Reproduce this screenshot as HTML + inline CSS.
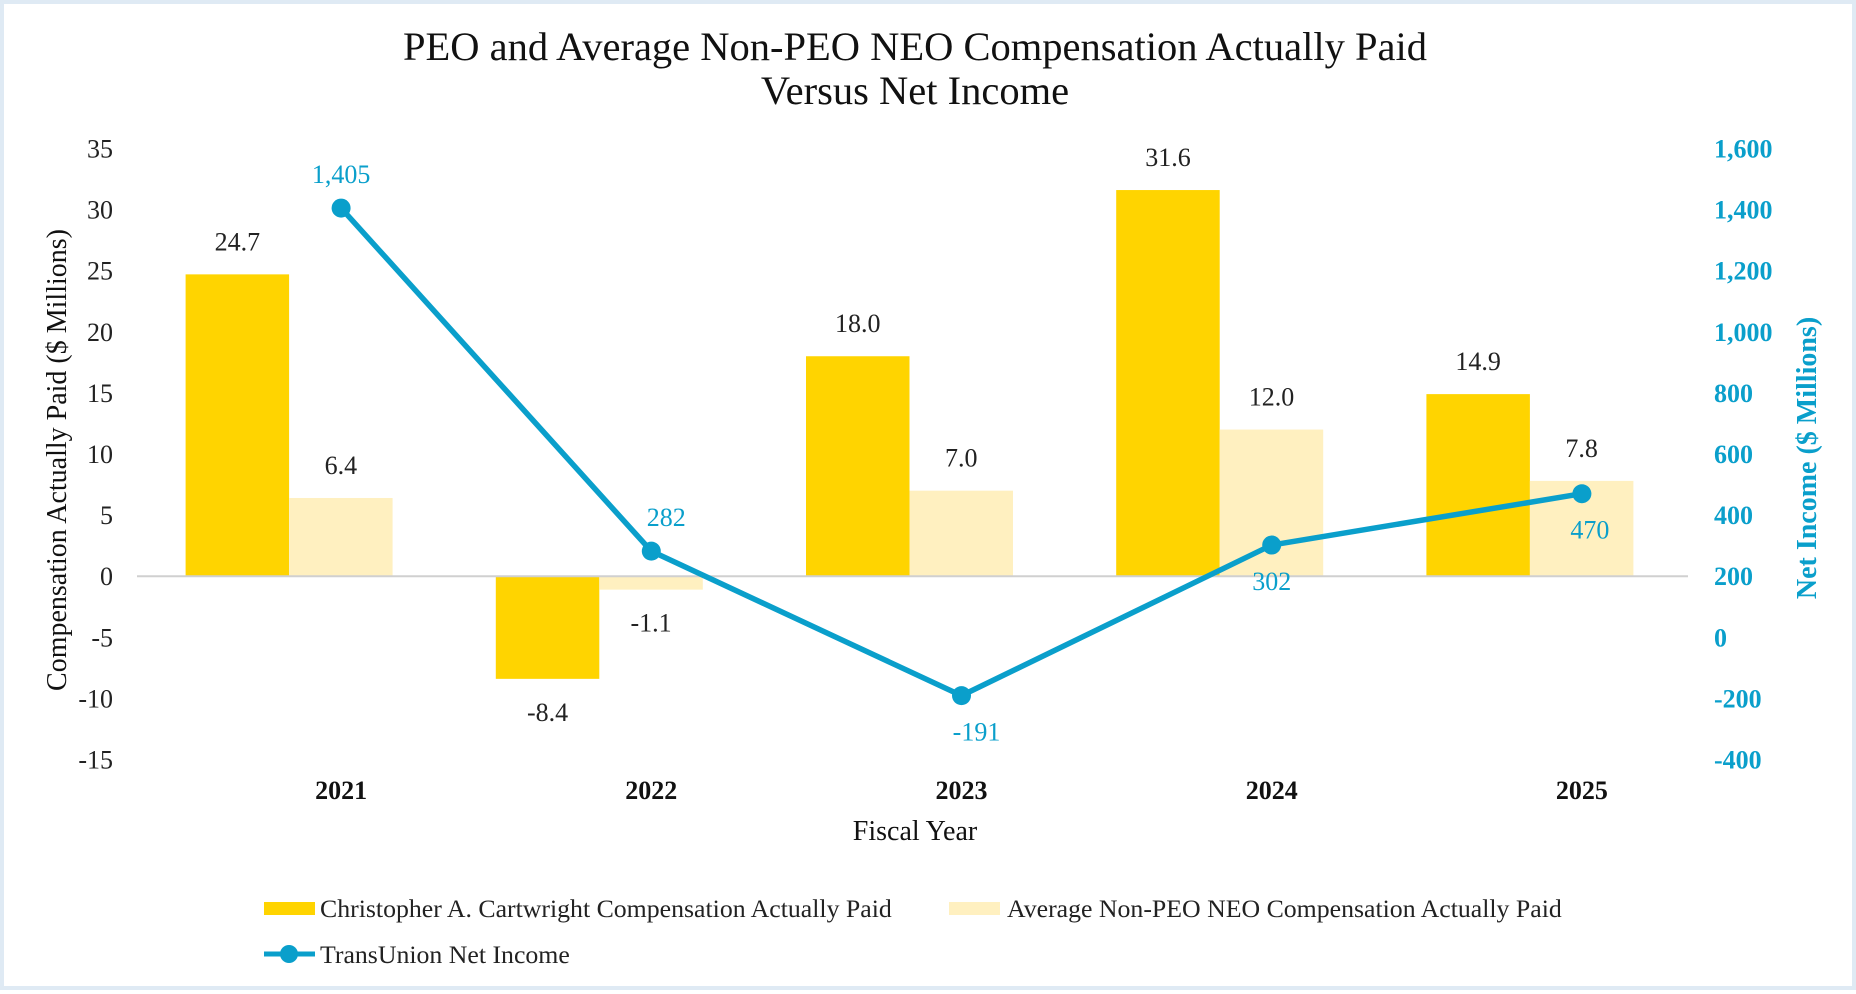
<!DOCTYPE html>
<html><head><meta charset="utf-8">
<style>
html,body{margin:0;padding:0;background:#fff;}
#wrap{width:1856px;height:990px;position:relative;box-sizing:border-box;border:4px solid #dfeaf4;}
svg{position:absolute;left:0;top:0;font-family:"Liberation Serif",serif;}
</style></head>
<body>
<div id="wrap">
<svg id="chart" width="1856" height="990" viewBox="0 0 1856 990"></svg>
</div>
<script>
const categories=["2021","2022","2023","2024","2025"];
const peoValues=[24.7,-8.4,18.0,31.6,14.9];
const neoValues=[6.4,-1.1,7.0,12.0,7.8];
const netIncome=[1405,282,-191,302,470];
const netLabels=["1,405","282","-191","302","470"];
const leftTicks=[35,30,25,20,15,10,5,0,-5,-10,-15];
const rightTicks=[1600,1400,1200,1000,800,600,400,200,0,-200,-400];
const rightTickLabels=["1,600","1,400","1,200","1,000","800","600","400","200","0","-200","-400"];

const NS="http://www.w3.org/2000/svg";
const svg=document.getElementById('chart');
function mk(tag,attrs,text){const e=document.createElementNS(NS,tag);for(const k in attrs)e.setAttribute(k,attrs[k]);if(text!==undefined)e.textContent=text;svg.appendChild(e);return e;}
const plotL=130,plotR=1681,yTop=144.5,yBot=755.5;
const yL=v=>yBot-(v+15)/50*(yBot-yTop);
const yR=v=>yBot-(v+400)/2000*(yBot-yTop);
const cw=(plotR-plotL)/categories.length;
const cx=i=>plotL+cw*(i+0.5);
const YEL="#FFD400",LYEL="#FFF0C0",TEAL="#0A9FCB";
const bw=103.5;

let t;
t=mk('text',{x:911,y:56,'font-size':40.5,'text-anchor':'middle',fill:'#111'},'PEO and Average Non-PEO NEO Compensation Actually Paid');

t=mk('text',{x:911,y:100,'font-size':40.5,'text-anchor':'middle',fill:'#111'},'Versus Net Income');


leftTicks.forEach(v=>{const e=mk('text',{x:109,y:yL(v)+9,'font-size':26,'text-anchor':'end',fill:'#222'},String(v));
});
rightTicks.forEach((v,i)=>{const e=mk('text',{x:1710,y:yR(v)+9,'font-size':26,'font-weight':'bold',fill:TEAL},rightTickLabels[i]);
});

t=mk('text',{x:0,y:0,'font-size':28,'text-anchor':'middle',fill:'#111',transform:'translate(62,456) rotate(-90)'},'Compensation Actually Paid ($ Millions)');

t=mk('text',{x:0,y:0,'font-size':28,'font-weight':'bold','text-anchor':'middle',fill:TEAL,transform:'translate(1812,454) rotate(-90)'},'Net Income ($ Millions)');


categories.forEach((c,i)=>{
  const x0=cx(i)-bw, x1=cx(i);
  const p=peoValues[i], n=neoValues[i];
  let r=mk('rect',{x:x0,y:Math.min(yL(p),yL(0)),width:bw,height:Math.abs(yL(p)-yL(0)),fill:YEL});
  
  r=mk('rect',{x:x1,y:Math.min(yL(n),yL(0)),width:bw,height:Math.abs(yL(n)-yL(0)),fill:LYEL});
  
  let e=mk('text',{x:x0+bw/2,y:p>=0?yL(p)-24:yL(p)+42,'font-size':26,'text-anchor':'middle',fill:'#222'},p.toFixed(1));
  
  e=mk('text',{x:x1+bw/2,y:n>=0?yL(n)-24:yL(n)+42,'font-size':26,'text-anchor':'middle',fill:'#222'},n.toFixed(1));
  
  e=mk('text',{x:cx(i)+52,y:795,'font-size':26,'font-weight':'bold','text-anchor':'middle',fill:'#111'},c);
  
});
let zl=mk('line',{x1:133,x2:1684,y1:yL(0),y2:yL(0),stroke:'#d0d0d0','stroke-width':2});


const pts=netIncome.map((v,i)=>(cx(i)+52)+','+yR(v)).join(' ');
let pl=mk('polyline',{points:pts,fill:'none',stroke:TEAL,'stroke-width':5.5,'stroke-linejoin':'round'});

const above=[true,true,false,false,false];
const dx=[0,15,15,0,8];
netIncome.forEach((v,i)=>{
  const c=mk('circle',{cx:cx(i)+52,cy:yR(v),r:9.5,fill:TEAL});
  
  const e=mk('text',{x:cx(i)+52+dx[i],y:above[i]?yR(v)-25:yR(v)+45,'font-size':26,'text-anchor':'middle',fill:TEAL},netLabels[i]);
  
});

t=mk('text',{x:911,y:836,'font-size':28,'text-anchor':'middle',fill:'#111'},'Fiscal Year');


let g=mk('rect',{x:260,y:898,width:51,height:13,fill:YEL});

t=mk('text',{x:316,y:913,'font-size':25.8,fill:'#222'},'Christopher A. Cartwright Compensation Actually Paid');

g=mk('rect',{x:945,y:898,width:51,height:13,fill:LYEL});

t=mk('text',{x:1003,y:913,'font-size':25.8,fill:'#222'},'Average Non-PEO NEO Compensation Actually Paid');

g=mk('line',{x1:260,x2:311,y1:950,y2:950,stroke:TEAL,'stroke-width':5});

g=mk('circle',{cx:285,cy:950,r:9,fill:TEAL});

t=mk('text',{x:316,y:959,'font-size':25.8,fill:'#222'},'TransUnion Net Income');

</script>
</body></html>
